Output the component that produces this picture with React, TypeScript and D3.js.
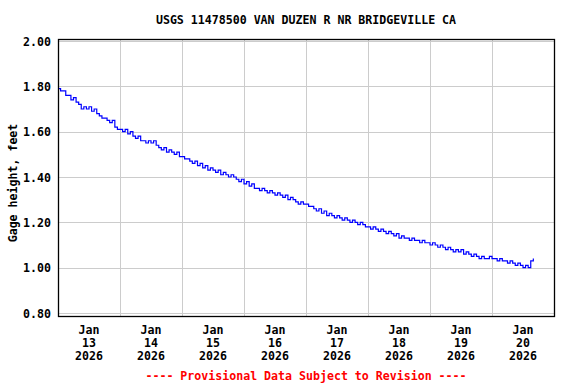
import React, { useEffect, useRef } from 'react';
import * as d3 from 'd3';

// hourly gage height readings (ft)
const jan13 = [1.79, 1.78, 1.78, 1.76, 1.76, 1.74, 1.75, 1.73, 1.72, 1.70, 1.71, 1.70, 1.71, 1.69, 1.70, 1.68, 1.67, 1.66, 1.66, 1.65, 1.64, 1.65, 1.62, 1.61];
const jan14 = [1.61, 1.60, 1.61, 1.59, 1.60, 1.58, 1.57, 1.58, 1.56, 1.56, 1.55, 1.56, 1.55, 1.56, 1.54, 1.53, 1.52, 1.53, 1.51, 1.52, 1.51, 1.50, 1.51, 1.49];
const jan15 = [1.49, 1.48, 1.48, 1.47, 1.46, 1.47, 1.45, 1.46, 1.44, 1.45, 1.43, 1.44, 1.43, 1.42, 1.43, 1.41, 1.42, 1.41, 1.40, 1.41, 1.40, 1.39, 1.38, 1.39];
const jan16 = [1.37, 1.38, 1.36, 1.37, 1.35, 1.35, 1.34, 1.35, 1.34, 1.33, 1.34, 1.33, 1.32, 1.33, 1.32, 1.31, 1.32, 1.30, 1.31, 1.30, 1.29, 1.28, 1.29, 1.28];
const jan17 = [1.28, 1.27, 1.27, 1.26, 1.25, 1.26, 1.24, 1.25, 1.23, 1.24, 1.23, 1.22, 1.23, 1.22, 1.21, 1.22, 1.21, 1.20, 1.21, 1.20, 1.19, 1.20, 1.19, 1.18];
const jan18 = [1.18, 1.17, 1.18, 1.17, 1.16, 1.17, 1.16, 1.15, 1.16, 1.15, 1.14, 1.15, 1.13, 1.14, 1.13, 1.13, 1.12, 1.13, 1.12, 1.12, 1.11, 1.12, 1.11, 1.11];
const jan19 = [1.10, 1.11, 1.10, 1.09, 1.10, 1.09, 1.08, 1.09, 1.08, 1.07, 1.08, 1.07, 1.08, 1.06, 1.07, 1.06, 1.05, 1.06, 1.05, 1.04, 1.05, 1.04, 1.04, 1.05];
const jan20 = [1.04, 1.04, 1.03, 1.04, 1.03, 1.03, 1.02, 1.03, 1.02, 1.01, 1.02, 1.01, 1.00, 1.01, 1.00, 1.03, 1.04];

const days = [13, 14, 15, 16, 17, 18, 19, 20];
const yTicks = [0.8, 1.0, 1.2, 1.4, 1.6, 1.8, 2.0];

const title = 'USGS 11478500 VAN DUZEN R NR BRIDGEVILLE CA';
const yTitle = 'Gage height, feet';
const footer = '---- Provisional Data Subject to Revision ----';

const FONT = '"DejaVu Sans Mono", monospace';
const FS = 11.6;

export default function App() {
  const ref = useRef<SVGSVGElement>(null);

  useEffect(() => {
    const svg = d3.select(ref.current);
    svg.selectAll('*').remove();

    const left = 58, right = 554, top = 39, bottom = 316;

    const x = d3.scaleUtc()
      .domain([new Date(Date.UTC(2026, 0, 13)), new Date(Date.UTC(2026, 0, 21))])
      .range([left, right]);
    const y = d3.scaleLinear().domain([0.8, 2.0]).range([bottom - 3, top + 2]);

    const series = [jan13, jan14, jan15, jan16, jan17, jan18, jan19, jan20];
    const points: { t: Date; v: number }[] = [];
    series.forEach((arr, i) => {
      arr.forEach((v, h) => {
        points.push({ t: new Date(Date.UTC(2026, 0, days[i], h)), v });
      });
    });

    // grid
    const grid = svg.append('g').attr('stroke', '#cccccc').attr('stroke-width', 1);
    yTicks.forEach(t => {
      const yy = Math.round(y(t)) + 0.5;
      grid.append('line').attr('x1', left).attr('x2', right).attr('y1', yy).attr('y2', yy);
    });
    days.slice(1).forEach(d => {
      const xx = Math.round(x(new Date(Date.UTC(2026, 0, d)))) + 0.5;
      grid.append('line').attr('x1', xx).attr('x2', xx).attr('y1', top).attr('y2', bottom);
    });

    // data line
    const line = d3.line<{ t: Date; v: number }>()
      .x(d => x(d.t))
      .y(d => y(d.v))
      .curve(d3.curveStepAfter);
    svg.append('path')
      .datum(points)
      .attr('d', line)
      .attr('fill', 'none')
      .attr('stroke', '#0000ff')
      .attr('stroke-width', 1.2);

    // frame
    svg.append('rect')
      .attr('x', left + 0.5).attr('y', top + 0.5)
      .attr('width', right - left).attr('height', bottom - top)
      .attr('fill', 'none').attr('stroke', '#000').attr('stroke-width', 1.3);

    // y tick labels
    yTicks.forEach(t => {
      svg.append('text')
        .attr('x', 51).attr('y', y(t) + 4.5)
        .attr('text-anchor', 'end')
        .attr('font-family', FONT).attr('font-weight', 'bold').attr('font-size', FS)
        .text(t.toFixed(2));
    });

    // x tick labels (at noon of each day)
    days.forEach(d => {
      const xx = x(new Date(Date.UTC(2026, 0, d, 12)));
      const g = svg.append('text')
        .attr('text-anchor', 'middle')
        .attr('font-family', FONT).attr('font-weight', 'bold').attr('font-size', FS);
      ['Jan', String(d), '2026'].forEach((s, i) => {
        g.append('tspan').attr('x', xx).attr('y', 334 + i * 13).text(s);
      });
    });

    // titles
    svg.append('text')
      .attr('x', 306).attr('y', 24)
      .attr('text-anchor', 'middle')
      .attr('font-family', FONT).attr('font-weight', 'bold').attr('font-size', FS)
      .text(title);

    svg.append('text')
      .attr('transform', 'translate(17,183) rotate(-90)')
      .attr('text-anchor', 'middle')
      .attr('font-family', FONT).attr('font-weight', 'bold').attr('font-size', FS)
      .text(yTitle);

    svg.append('text')
      .attr('x', 306).attr('y', 380)
      .attr('text-anchor', 'middle')
      .attr('fill', '#ff0000')
      .attr('font-family', FONT).attr('font-weight', 'bold').attr('font-size', FS)
      .text(footer);
  }, []);

  return (
    <svg
      ref={ref}
      width={576}
      height={384}
      style={{ position: 'fixed', left: 0, top: 0, background: '#fff', display: 'block' }}
    />
  );
}
